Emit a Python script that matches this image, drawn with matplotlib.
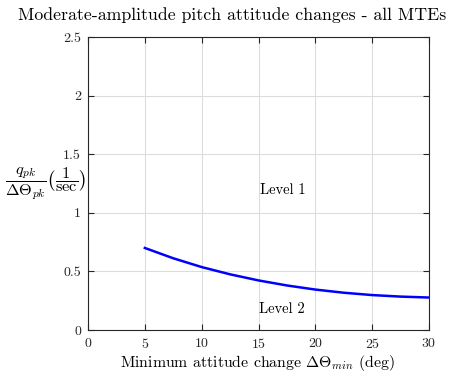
import matplotlib
matplotlib.use("Agg")
import matplotlib.pyplot as plt

plt.rcParams['font.family'] = 'serif'
plt.rcParams['font.serif'] = ['cmr10']
plt.rcParams['mathtext.fontset'] = 'cm'
plt.rcParams['axes.formatter.use_mathtext'] = True

# Level 1 / Level 2 boundary
dtheta_min = [5, 7.5, 10, 12.5, 15, 17.5, 20, 22.5, 25, 27.5, 30]
q_ratio = [0.70, 0.612, 0.537, 0.475, 0.423, 0.380, 0.345, 0.318, 0.298, 0.285, 0.277]

xticks = [0, 5, 10, 15, 20, 25, 30]
yticks = [0, 0.5, 1, 1.5, 2, 2.5]
ytick_labels = ['0', '0.5', '1', '1.5', '2', '2.5']

W, H = 459, 376
fig = plt.figure(figsize=(W / 100, H / 100), dpi=100)
ax = fig.add_axes([88 / W, 1 - 330 / H, (429 - 88) / W, (330 - 37) / H])

ax.plot(dtheta_min, q_ratio, color='#0000ff', lw=1.8, solid_joinstyle='round')

ax.set_xlim(0, 30)
ax.set_ylim(0, 2.5)
ax.set_xticks(xticks)
ax.set_yticks(yticks)
ax.set_yticklabels(ytick_labels)
ax.grid(True, color='#dcdcdc', lw=0.8)
ax.set_axisbelow(True)
for s in ax.spines.values():
    s.set_color('#262626')
    s.set_linewidth(0.8)
ax.tick_params(direction='in', top=True, right=True, length=4, width=0.8,
               colors='#262626', labelsize=10, pad=5)

ax.text(17.15, 1.19, 'Level 1', ha='center', va='center', fontsize=10.5)
ax.text(17.1, 0.18, 'Level 2', ha='center', va='center', fontsize=10.5)

fig.text(232 / W, 1 - 20 / H, 'Moderate-amplitude pitch attitude changes - all MTEs',
         ha='center', va='baseline', fontsize=12.8)
fig.text(257 / W, 1 - 367 / H, r'Minimum attitude change $\Delta\Theta_{min}$ (deg)',
         ha='center', va='baseline', fontsize=11.4)
fig.text(45 / W, 1 - 184 / H,
         r'$\dfrac{q_{pk}}{\Delta\Theta_{pk}}\left(\dfrac{1}{\mathrm{sec}}\right)$',
         ha='center', va='center', fontsize=11.8)

fig.savefig('out.png', dpi=100)
